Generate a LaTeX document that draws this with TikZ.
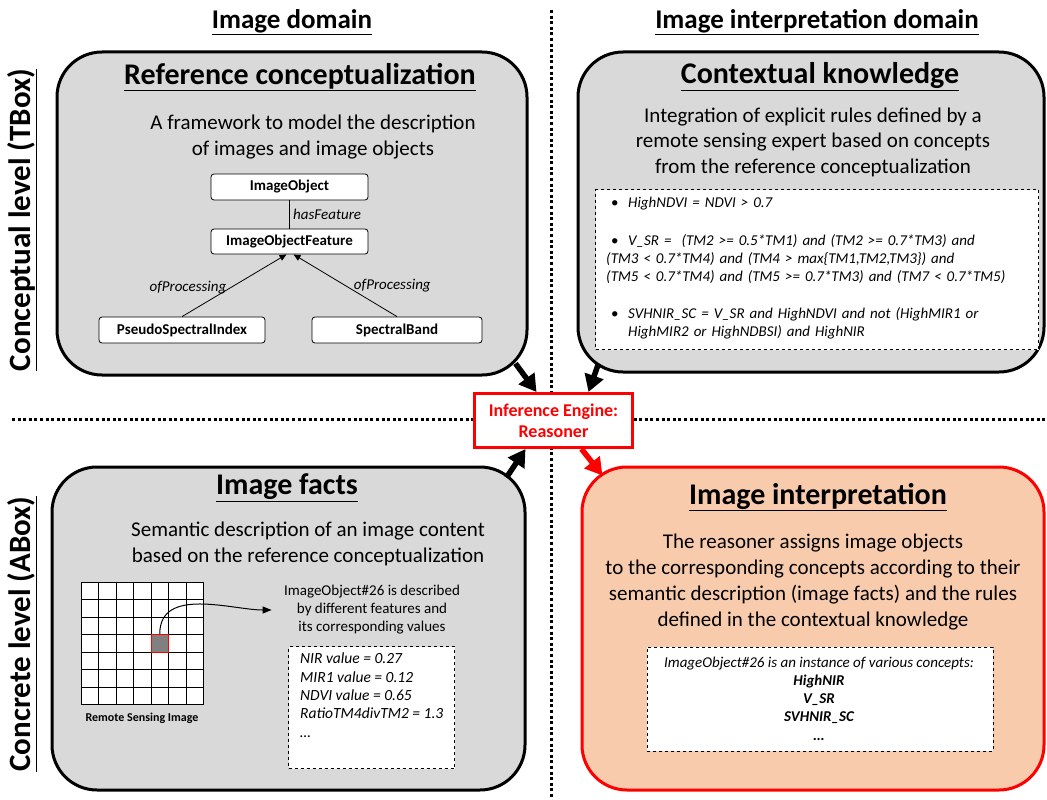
\documentclass[tikz,border=0pt]{standalone}
\usepackage{fontspec}
\setmainfont{Carlito}
\usetikzlibrary{positioning,calc,arrows.meta}

\definecolor{panelgray}{HTML}{D9D9D9}
\definecolor{peach}{HTML}{F8CBAD}

\begin{document}
\begin{tikzpicture}[x=1pt, y=-1pt,
    panel/.style={draw, line width=3pt, rounded corners=45pt, fill=panelgray, inner sep=0pt},
    heading/.style={font=\fontsize{27}{32}\selectfont\bfseries},
    levellabel/.style={rotate=90, font=\fontsize{31}{36}\selectfont\bfseries},
    paneltitle/.style={font=\fontsize{30}{36}\selectfont\bfseries},
    paneltext/.style={font=\fontsize{21}{25.5}\selectfont, align=center},
    umlbox/.style={draw, fill=white, rounded corners=3pt, line width=0.8pt, inner sep=0pt,
        minimum height=26pt, font=\fontsize{15}{18}\selectfont\bfseries},
    rel/.style={font=\fontsize{15}{18}\selectfont\itshape},
    notebox/.style={draw, dashed, fill=white, line width=1pt},
    sep/.style={line width=3pt, dash pattern=on 3pt off 2.6pt},
    bigarrow/.style={line width=5.5pt, -{Triangle[length=17pt, width=19pt]}},
    umlarrow/.style={line width=0.8pt, -{Triangle[length=7pt, width=6pt]}},
]
\useasboundingbox (0,0) rectangle (1047,800);

% --- separators ---
\draw[sep] (551,10) -- (551,800);
\draw[sep] (12,419) -- (1047,419);

% --- headings ---
\node[heading] (imgdom) at (292,22) {\underline{Image domain}};
\node[heading] (interpdom) at (817,22) {\underline{Image interpretation domain}};
\node[levellabel] (tbox) at (22,220) {\underline{Conceptual level (TBox)}};
\node[levellabel] (abox) at (22,634) {\underline{Concrete level (ABox)}};

% --- panels ---
\node[panel, minimum width=470pt, minimum height=323pt] (refpanel) at (292,213.5) {};
\node[panel, minimum width=466pt, minimum height=320pt] (ctxpanel) at (811,212) {};
\node[panel, minimum width=473pt, minimum height=323pt] (factpanel) at (288.5,628.5) {};
\node[panel, draw=red, fill=peach, minimum width=462pt, minimum height=323pt] (interppanel) at (813,628.5) {};

% --- reference conceptualization ---
\node[paneltitle] (reftitle) at (300,77) {\underline{Reference conceptualization}};
\node[paneltext] (refdesc) at (313,137) {A framework to model the description\\of images and image objects};
\node[umlbox, minimum width=157pt] (imgobj) at (289.5,187) {ImageObject};
\node[umlbox, minimum width=157pt, minimum height=25pt] (objfeat) at (289.5,241.5) {ImageObjectFeature};
\node[umlbox, minimum width=166pt] (psi) at (182,330) {PseudoSpectralIndex};
\node[umlbox, minimum width=170pt] (band) at (397,330) {SpectralBand};
\draw[line width=0.8pt] (imgobj) -- (objfeat) node[midway, right, rel] {hasFeature};
\draw[umlarrow] (psi.north) -- ($(objfeat.south)+(-3,0)$) node[pos=0.46, left, rel] {ofProcessing};
\draw[umlarrow] (band.north) -- ($(objfeat.south)+(4,0)$) node[pos=0.5, right=5pt, rel] {ofProcessing};

% --- contextual knowledge ---
\node[paneltitle] (ctxtitle) at (820,77) {\underline{Contextual knowledge}};
\node[paneltext] (ctxdesc) at (813,142) {Integration of explicit rules defined by a\\remote sensing expert based on concepts\\from the reference conceptualization};
\node[notebox, minimum width=443pt, minimum height=160pt, anchor=north west] (rulebox) at (595,189) {};
\node[rel, align=left, anchor=north west, text width=430pt, inner sep=0pt] (rules) at (606,197) {%
\makebox[22pt][l]{\hspace{5pt}\upshape•}HighNDVI = NDVI > 0.7\\[20pt]
\makebox[22pt][l]{\hspace{5pt}\upshape•}V\_SR =~ (TM2 >= 0.5*TM1) and (TM2 >= 0.7*TM3) and\\
(TM3 < 0.7*TM4) and (TM4 > max\{TM1,TM2,TM3\}) and\\
(TM5 < 0.7*TM4) and (TM5 >= 0.7*TM3) and (TM7 < 0.7*TM5)\\[19pt]
\makebox[22pt][l]{\hspace{5pt}\upshape•}SVHNIR\_SC = V\_SR and HighNDVI and not (HighMIR1 or\\
\hspace*{22pt}HighMIR2 or HighNDBSI) and HighNIR};

% --- image facts ---
\node[paneltitle] (facttitle) at (287,488) {\underline{Image facts}};
\node[paneltext] (factdesc) at (308,544) {Semantic description of an image content\\based on the reference conceptualization};
\fill[white] (81,582) rectangle (203.5,704.5);
\foreach \i in {0,...,7} {
    \draw[line width=1pt] (81+\i*17.5,582) -- (81+\i*17.5,704.5);
    \draw[line width=1pt] (81,582+\i*17.5) -- (203.5,582+\i*17.5);
}
\node[draw=red, fill=gray, line width=1pt, minimum size=17.5pt, inner sep=0pt] (obj26) at (159.75,643.25) {};
\node[font=\fontsize{12}{14}\selectfont\bfseries] (rsimg) at (142,718) {Remote Sensing Image};
\node[font=\fontsize{15}{18}\selectfont, align=center] (objdesc) at (372,610) {ImageObject\#26 is described\\by different features and\\its corresponding values};
\draw[line width=1pt, -{Triangle[length=9pt, width=7pt]}, shorten >=9pt] (obj26.north) to[out=90, in=180] (objdesc.west);
\node[notebox, minimum width=166pt, minimum height=122pt, anchor=north west] (valbox) at (288,646) {};
\node[rel, font=\fontsize{15.5}{18.3}\selectfont\itshape, align=left, anchor=north west, inner sep=0pt] (vals) at (300,653) {NIR value = 0.27\\MIR1 value = 0.12\\NDVI value = 0.65\\RatioTM4divTM2 = 1.3\\\ldots};

% --- image interpretation ---
\node[paneltitle] (interptitle) at (818,497) {\underline{Image interpretation}};
\node[paneltext, font=\fontsize{21}{26}\selectfont] (interpdesc) at (813,582) {The reasoner assigns image objects\\to the corresponding concepts according to their\\semantic description (image facts) and the rules\\defined in the contextual knowledge};
\node[notebox, minimum width=346pt, minimum height=104pt] (conceptbox) at (820,699) {};
\node[rel, font=\fontsize{15}{18.3}\selectfont\itshape, align=center] (concepts) at (819,698.5) {ImageObject\#26 is an instance of various concepts:\\\textbf{HighNIR}\\\textbf{V\_SR}\\\textbf{SVHNIR\_SC}\\\textbf{\ldots}};

% --- reasoner ---
\node[draw=red, line width=3pt, fill=white, minimum width=158pt, minimum height=54pt, align=center,
    text=red, font=\fontsize{18}{21}\selectfont\bfseries] (engine) at (553.5,420.5) {Inference Engine:\\Reasoner};
\draw[bigarrow] ($(refpanel.south east)+(-13,-13)$) -- ($(engine.north)+(-17,0)$);
\draw[bigarrow] ($(ctxpanel.south west)+(22,-10)$) -- ($(engine.north)+(35,0)$);
\draw[bigarrow] ($(factpanel.north east)+(-20,12)$) -- ($(engine.south)+(-28,0)$);
\draw[bigarrow, red] ($(engine.south)+(28,0)$) -- ($(interppanel.north west)+(22,10)$);
\end{tikzpicture}
\end{document}
